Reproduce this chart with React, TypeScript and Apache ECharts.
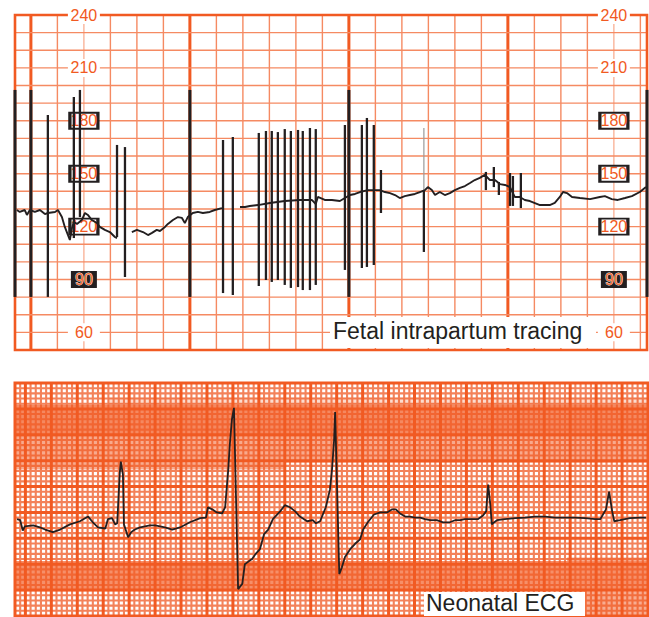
import React, { useEffect, useRef } from 'react';
import * as echarts from 'echarts';

const ORANGE = '#f15a22';
const INK = '#231f20';
const FONT = '"Liberation Sans", Arial, Helvetica, sans-serif';

// ---------- Fetal intrapartum tracing: time (s) vs FHR (bpm) ----------
const fhrTrace: [number, number | null][] = [
  [-5.3, 129.4], [-4.2, 128.3], [-2.3, 129.4], [-1.5, 126.6], [-0.4, 129.4], [1.5, 128.3],
  [3.4, 129.4], [5.3, 127.1], [6.4, 127.7], [9.1, 128.3], [10.2, 129.4], [11.7, 125.4],
  [12.8, 119.8], [14.0, 115.2], [14.7, 112.4], [15.5, 119.2], [16.2, 122.6], [17.4, 121.5],
  [19.2, 123.7], [20.4, 127.7], [21.5, 126.6], [23.0, 123.7], [24.9, 122.0], [26.0, 119.8],
  [27.9, 118.1], [29.8, 116.9], [31.7, 114.1], [32.5, 113.5], [35.0, null],
  [38.1, 116.9], [40.0, 118.1], [42.3, 116.9], [44.2, 115.2], [45.7, 116.4], [47.5, 118.1],
  [48.7, 117.5], [50.6, 119.8], [51.7, 121.5], [53.6, 123.7], [55.5, 125.4], [57.0, 124.9],
  [58.1, 122.0], [59.2, 125.4], [61.1, 127.7], [63.0, 128.3], [64.9, 127.7], [67.5, 128.3],
  [69.4, 129.4], [72.1, 130.5], [75.0, null],
  [78.9, 131.1], [80.8, 131.1], [82.6, 131.7], [85.7, 132.2], [90.2, 133.4], [95.8, 134.5],
  [101.5, 135.1], [106.0, 135.1], [107.5, 132.8], [108.3, 136.8], [110.9, 135.1], [113.6, 135.1],
  [116.6, 134.5], [118.5, 136.2], [120.4, 137.9], [122.3, 138.5], [124.2, 139.6], [127.2, 140.7],
  [129.8, 140.7], [131.7, 140.7], [133.6, 139.6], [135.5, 139.0], [137.4, 137.9], [139.2, 136.2],
  [141.1, 137.3], [143.0, 137.9], [144.9, 138.5], [146.8, 139.6], [148.7, 140.7], [149.8, 142.4],
  [151.3, 140.7], [152.5, 137.9], [154.3, 139.6], [156.2, 137.9], [158.1, 139.0], [160.0, 140.7],
  [161.9, 141.9], [163.8, 143.0], [165.7, 144.7], [167.5, 146.4], [169.4, 147.6], [171.3, 149.3],
  [173.2, 146.4], [175.1, 146.4], [177.0, 144.1], [178.9, 143.6], [180.8, 142.4], [182.6, 136.8],
  [184.5, 136.8], [186.4, 135.1], [188.3, 134.5], [192.1, 132.2], [195.8, 132.2], [197.7, 133.4],
  [199.6, 136.8], [200.8, 139.6], [202.3, 139.0], [204.2, 136.8], [207.2, 136.2], [211.0, 135.6],
  [214.7, 136.8], [216.6, 137.3], [219.2, 135.6], [221.5, 135.1], [224.2, 136.2], [226.8, 137.3],
  [229.8, 139.6], [232.1, 142.4],
];

// artifact strokes: [time, upper bpm, lower bpm]
const fhrArtifacts: [number, number, number][] = [
  [6.4, 183.3, 80.1], [16.2, 193.5, 113.5], [18.5, 197.5, 125.4], [32.5, 166.3, 114.1],
  [35.5, 165.1, 91.4], [72.5, 169.1, 82.3], [76.2, 170.8, 81.2], [86.0, 173.1, 86.3],
  [88.7, 174.2, 89.7], [90.9, 174.2, 88.6], [93.2, 173.6, 89.7], [95.8, 175.3, 86.9],
  [98.1, 174.2, 85.2], [100.8, 174.8, 85.7], [102.6, 174.2, 84.0], [105.3, 175.9, 84.0],
  [107.5, 175.3, 86.9], [118.5, 177.6, 95.4], [124.9, 177.6, 96.5], [126.8, 181.6, 97.1],
  [129.4, 177.6, 98.2], [132.1, 152.1, 127.7], [148.3, 140.7, 105.6], [171.7, 151.0, 140.7],
  [174.7, 153.8, 142.4], [176.6, 145.3, 137.9], [180.8, 150.4, 131.7], [181.9, 148.7, 131.7],
  [184.9, 150.4, 130.5],
];
const fhrSaturation: [number, number, number][] = [
  [-6, 197.5, 80.1], [0, 197.5, 80.1], [60, 197.5, 80.1], [120, 197.5, 80.1], [232.5, 197.5, 80.1],
];
const fhrFaint: [number, number, number][] = [[148.3, 175.9, 140.7]];

const bpmPlainTicks = [240, 210, 60];
const bpmBoxedTicks = [180, 150, 120];
const bpmDarkTicks = [90];
const tickColumns = [20, 220];

// ---------- Neonatal ECG: time (mm) vs amplitude (mm) ----------
const ecgTrace: [number, number][] = [
  [-1.6, 18.7], [-1.0, 18.5], [-0.5, 16.5], [-0.1, 17.3], [1.5, 17.5], [2.8, 17.1], [3.8, 16.7],
  [5.3, 16.2], [6.7, 16.7], [8.6, 17.7], [10.5, 18.3], [12.1, 19.2], [13.0, 18.1], [14.0, 17.1],
  [15.4, 16.9], [15.9, 18.7], [16.7, 18.9], [17.3, 17.7], [17.7, 17.9], [18.2, 27.7], [18.4, 29.8],
  [18.8, 27.3], [19.0, 17.7], [19.8, 15.2], [20.4, 16.2], [21.1, 16.7], [22.1, 17.1], [24.0, 17.5],
  [25.0, 17.5], [26.9, 17.1], [28.3, 16.7], [29.8, 17.1], [31.7, 18.1], [33.7, 18.9], [34.8, 19.0],
  [35.2, 21.0], [36.0, 20.6], [36.9, 20.0], [37.9, 19.8], [38.5, 21.0], [39.1, 28.3], [39.4, 33.1],
  [39.8, 37.9], [40.2, 40.2], [41.0, 5.2], [41.8, 6.2], [42.3, 10.0], [43.1, 10.6], [43.7, 11.0],
  [44.3, 11.9], [45.2, 12.9], [46.0, 15.8], [46.8, 16.7], [47.7, 18.7], [49.1, 20.2], [50.0, 21.4],
  [51.0, 21.0], [52.0, 20.2], [52.9, 19.2], [54.3, 18.3], [55.4, 18.5], [56.0, 17.9], [56.8, 18.3],
  [57.9, 21.0], [58.7, 24.4], [59.1, 28.3], [59.5, 34.0], [59.7, 39.4], [60.5, 8.1], [61.0, 9.4],
  [61.6, 11.4], [62.6, 12.9], [63.5, 13.9], [64.5, 14.8], [65.1, 16.7], [66.0, 18.1], [67.2, 19.6],
  [68.4, 20.0], [69.7, 20.0], [70.7, 20.6], [71.4, 20.6], [72.2, 19.8], [73.2, 19.2], [74.1, 19.2],
  [75.1, 19.0], [76.1, 19.0], [77.0, 18.7], [78.0, 18.5], [79.3, 18.5], [80.5, 18.1], [81.8, 18.1],
  [82.8, 18.5], [83.8, 18.5], [84.7, 18.7], [87.2, 18.7], [88.2, 19.4], [88.8, 20.2], [89.2, 25.4],
  [89.6, 21.5], [89.9, 17.7], [90.1, 17.9], [90.9, 18.5], [92.4, 18.7], [94.4, 18.9], [96.3, 19.0],
  [98.2, 19.2], [100.2, 19.2], [102.1, 19.0], [104.0, 19.0], [105.9, 19.0], [107.9, 18.9],
  [109.8, 18.7], [110.8, 18.7], [111.9, 20.6], [112.5, 24.0], [113.1, 20.2], [113.5, 18.3],
  [114.6, 18.5], [116.5, 18.9], [118.5, 19.0], [119.6, 19.0],
];

// darker shaded rows of the ECG paper: [x0, x1, y0, y1, opacity]
const ecgBands: [number, number, number, number, number][] = [
  [-2, 120, 34.6, 40.8, 0.72],
  [-2, 120, 29.6, 34.6, 0.52],
  [-2, 50, 28.3, 29.6, 0.5],
  [-2, 120, 4.8, 10.6, 0.68],
  [104.4, 120, 0, 4.8, 0.5],
  [104.4, 120, 10.6, 11.3, 0.5],
  [16, 120, 40.8, 42.2, 0.22],
];

// ---------- grid paper (decoration) ----------
const topLines: number[][] = [];
for (let t = 0; t <= 230; t += 10) topLines.push([0, t, t % 60 === 0 ? 1 : (t === 20 || t === 220 ? 2 : 0)]);
for (let v = 60; v <= 230; v += 10) topLines.push([1, v, 0]);
topLines.push([2, 0, 0]);

const ecgMinorLines: number[][] = [];
const ecgMajorLines: number[][] = [];
for (let m = -1; m <= 119; m++) (m % 5 === 0 ? ecgMajorLines : ecgMinorLines).push([0, m, m % 5 === 0 ? 1 : 0]);
for (let m = 1; m <= 44; m++) (m % 5 === 0 ? ecgMajorLines : ecgMinorLines).push([1, m, m % 5 === 0 ? 1 : 0]);
ecgMajorLines.push([2, 0, 0]);

const topStyles = [
  { stroke: '#f58a62', w: 1.4 },
  { stroke: ORANGE, w: 3 },
  { stroke: '#f9ae92', w: 1.3 },
];
const ecgStyles = [
  { stroke: '#f3825a', w: 2.1 },
  { stroke: ORANGE, w: 3 },
];

const makeGridRenderer = (styles: { stroke: string; w: number }[], borderW: number) =>
  (params: any, api: any) => {
    const cs = params.coordSys;
    const kind = api.value(0);
    const val = api.value(1);
    const s = styles[api.value(2)] || styles[0];
    if (kind === 2) {
      return {
        type: 'rect',
        shape: { x: cs.x, y: cs.y, width: cs.width, height: cs.height },
        style: { fill: 'none', stroke: ORANGE, lineWidth: borderW },
      };
    }
    if (kind === 0) {
      const x = api.coord([val, 0])[0];
      return {
        type: 'line',
        shape: { x1: x, y1: cs.y, x2: x, y2: cs.y + cs.height },
        style: { stroke: s.stroke, lineWidth: s.w },
      };
    }
    const y = api.coord([0, val])[1];
    return {
      type: 'line',
      shape: { x1: cs.x, y1: y, x2: cs.x + cs.width, y2: y },
      style: { stroke: s.stroke, lineWidth: s.w },
    };
  };

const makeStrokeRenderer = (color: string, width: number) => (params: any, api: any) => {
  const p1 = api.coord([api.value(0), api.value(1)]);
  const p2 = api.coord([api.value(0), api.value(2)]);
  return {
    type: 'line',
    shape: { x1: p1[0], y1: p1[1], x2: p2[0], y2: p2[1] },
    style: { stroke: color, lineWidth: width, lineCap: 'butt' },
  };
};

const bandRenderer = (params: any, api: any) => {
  const a = api.coord([api.value(0), api.value(3)]);
  const b = api.coord([api.value(1), api.value(2)]);
  return {
    type: 'rect',
    shape: { x: a[0], y: a[1], width: b[0] - a[0], height: b[1] - a[1] },
    style: { fill: ORANGE, opacity: api.value(4) },
  };
};

const tickData = (ticks: number[]) => {
  const out: number[][] = [];
  ticks.forEach((v) => tickColumns.forEach((c) => out.push([c, v])));
  return out;
};

const tickLabel = (extra: any = {}) => ({
  show: true,
  position: 'inside',
  formatter: (p: any) => String(p.value[1]),
  color: ORANGE,
  fontSize: 16,
  fontFamily: FONT,
  ...extra,
});

export default function App() {
  const ref = useRef<HTMLDivElement>(null);

  useEffect(() => {
    if (!ref.current) return;
    const chart = echarts.init(ref.current, undefined, { renderer: 'svg' });
    chart.setOption({
      animation: false,
      textStyle: { fontFamily: FONT },
      grid: [
        { left: 15, top: 15, width: 632, height: 335 },
        { left: 15, top: 383, width: 633, height: 233 },
      ],
      xAxis: [
        { gridIndex: 0, type: 'value', min: -6, max: 232.5, show: false },
        { gridIndex: 1, type: 'value', min: -2, max: 120, show: false },
      ],
      yAxis: [
        { gridIndex: 0, type: 'value', min: 50, max: 240, show: false },
        { gridIndex: 1, type: 'value', min: 0, max: 45, show: false },
      ],
      series: [
        {
          type: 'custom', xAxisIndex: 0, yAxisIndex: 0, silent: true, z: 1,
          renderItem: makeGridRenderer(topStyles, 2.6), data: topLines,
        },
        {
          type: 'scatter', xAxisIndex: 0, yAxisIndex: 0, silent: true, z: 2, clip: false,
          symbol: 'rect', symbolSize: [32, 18], itemStyle: { color: '#ffffff', opacity: 1 },
          label: tickLabel(), data: tickData(bpmPlainTicks),
        },
        {
          type: 'scatter', xAxisIndex: 0, yAxisIndex: 0, silent: true, z: 2, clip: false,
          symbol: 'rect', symbolSize: [28, 16],
          itemStyle: { color: '#ffffff', borderColor: INK, borderWidth: 2.5, opacity: 1 },
          label: tickLabel(), data: tickData(bpmBoxedTicks),
        },
        {
          type: 'scatter', xAxisIndex: 0, yAxisIndex: 0, silent: true, z: 2, clip: false,
          symbol: 'rect', symbolSize: [26, 17], itemStyle: { color: INK, opacity: 1 },
          label: tickLabel({ color: '#f26a35', textBorderColor: '#ffffff', textBorderWidth: 0.8 }),
          data: tickData(bpmDarkTicks),
        },
        {
          type: 'line', xAxisIndex: 0, yAxisIndex: 0, silent: true, z: 3,
          symbol: 'none', connectNulls: false,
          lineStyle: { color: INK, width: 1.9 },
          data: fhrTrace.map(([t, v]) => [t, v === null ? '-' : v]),
        },
        {
          type: 'custom', xAxisIndex: 0, yAxisIndex: 0, silent: true, z: 3,
          renderItem: makeStrokeRenderer('#9a9a9a', 1.2), data: fhrFaint,
        },
        {
          type: 'custom', xAxisIndex: 0, yAxisIndex: 0, silent: true, z: 3,
          renderItem: makeStrokeRenderer(INK, 2.3), data: fhrArtifacts,
        },
        {
          type: 'custom', xAxisIndex: 0, yAxisIndex: 0, silent: true, z: 3,
          renderItem: makeStrokeRenderer(INK, 3), data: fhrSaturation,
        },
        {
          type: 'custom', xAxisIndex: 1, yAxisIndex: 1, silent: true, z: 1,
          renderItem: makeGridRenderer(ecgStyles, 3), data: ecgMinorLines,
        },
        {
          type: 'custom', xAxisIndex: 1, yAxisIndex: 1, silent: true, z: 1,
          renderItem: bandRenderer, data: ecgBands,
        },
        {
          type: 'custom', xAxisIndex: 1, yAxisIndex: 1, silent: true, z: 1,
          renderItem: makeGridRenderer(ecgStyles, 3), data: ecgMajorLines,
        },
        {
          type: 'line', xAxisIndex: 1, yAxisIndex: 1, silent: true, z: 3,
          symbol: 'none', lineStyle: { color: INK, width: 1.8 },
          data: ecgTrace,
        },
      ],
      graphic: [
        {
          type: 'rect', z: 100, silent: true,
          shape: { x: 330, y: 317, width: 266, height: 31 }, style: { fill: '#ffffff' },
        },
        {
          type: 'text', z: 101, silent: true, x: 333, y: 331,
          style: {
            text: 'Fetal intrapartum tracing', font: `23px ${FONT}`, fill: INK,
            textVerticalAlign: 'middle', verticalAlign: 'middle',
          },
        },
        {
          type: 'rect', z: 100, silent: true,
          shape: { x: 424, y: 592, width: 161, height: 24 }, style: { fill: '#ffffff' },
        },
        {
          type: 'text', z: 101, silent: true, x: 426, y: 603,
          style: {
            text: 'Neonatal ECG', font: `23px ${FONT}`, fill: INK,
            textVerticalAlign: 'middle', verticalAlign: 'middle',
          },
        },
      ],
    });
    return () => chart.dispose();
  }, []);

  return (
    <div
      ref={ref}
      style={{ position: 'absolute', left: 0, top: 0, width: 649, height: 617, background: '#ffffff' }}
    />
  );
}
